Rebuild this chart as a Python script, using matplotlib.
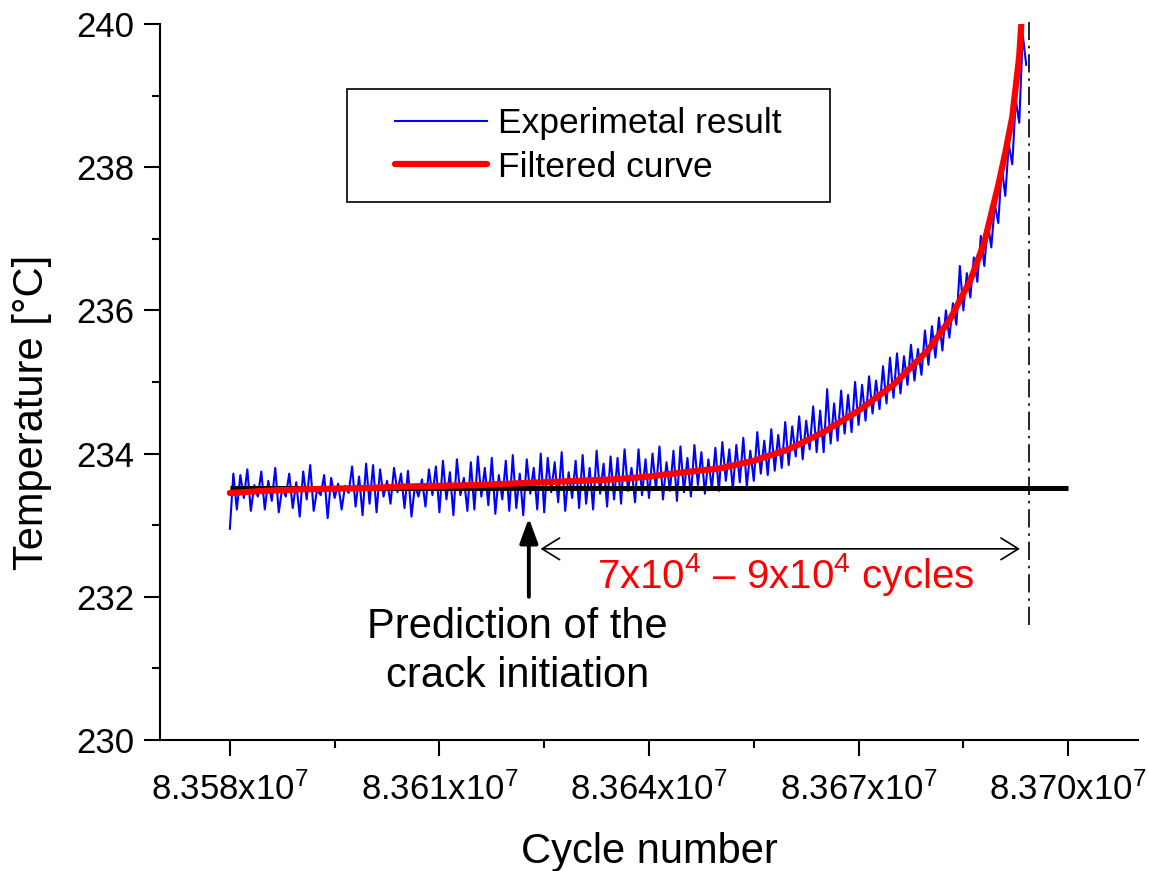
import matplotlib
matplotlib.use('Agg')
import matplotlib.pyplot as plt
from matplotlib.ticker import FixedLocator, FixedFormatter
from matplotlib.patches import Rectangle

plt.rcParams['font.family'] = ['Liberation Sans', 'DejaVu Sans']
plt.rcParams['mathtext.fontset'] = 'custom'
plt.rcParams['mathtext.rm'] = 'Liberation Sans'
plt.rcParams['mathtext.it'] = 'Liberation Sans:italic'
plt.rcParams['mathtext.bf'] = 'Liberation Sans:bold'

# ---------------- data ----------------
blue_start = 83580000   # first sampled cycle
blue_step = 500         # cycles between samples
blue_temp = [
    232.95, 233.72, 233.22, 233.70, 233.38, 233.78, 233.20, 233.56, 233.40, 233.75,
    233.22, 233.62, 233.34, 233.80, 233.18, 233.52, 233.40, 233.72, 233.24, 233.60,
    233.12, 233.75, 233.36, 233.84, 233.20, 233.50, 233.42, 233.70, 233.10, 233.66,
    233.38, 233.58, 233.22, 233.55, 233.45, 233.82, 233.26, 233.68, 233.14, 233.86,
    233.30, 233.84, 233.18, 233.78, 233.40, 233.62, 233.30, 233.80, 233.46, 233.72,
    233.24, 233.76, 233.12, 233.56, 233.40, 233.64, 233.26, 233.78, 233.42, 233.82,
    233.18, 233.90, 233.36, 233.74, 233.14, 233.92, 233.42, 233.66, 233.20, 233.88,
    233.22, 233.96, 233.40, 233.80, 233.28, 233.94, 233.16, 233.70, 233.36, 233.90,
    233.20, 233.98, 233.24, 233.72, 233.14, 233.92, 233.44, 233.80, 233.22, 234.00,
    233.18, 233.94, 233.46, 233.88, 233.32, 234.02, 233.20, 233.74, 233.38, 233.90,
    233.24, 233.98, 233.30, 233.80, 233.22, 234.04, 233.44, 233.86, 233.26, 233.96,
    233.36, 233.94, 233.30, 234.06, 233.48, 233.80, 233.32, 234.06, 233.42, 233.92,
    233.38, 234.00, 233.50, 234.10, 233.36, 233.88, 233.48, 234.04, 233.34, 234.10,
    233.46, 233.94, 233.40, 234.12, 233.56, 234.02, 233.44, 233.92, 233.50, 234.08,
    233.48, 234.16, 233.62, 234.06, 233.50, 234.12, 233.60, 234.22, 233.54, 234.04,
    233.62, 234.30, 233.72, 234.18, 233.70, 234.34, 233.76, 234.26, 233.80, 234.44,
    233.84, 234.38, 233.96, 234.52, 233.92, 234.46, 234.06, 234.66, 234.02, 234.60,
    234.02, 234.90, 234.14, 234.70, 234.18, 234.88, 234.28, 234.82, 234.30, 235.00,
    234.40, 234.96, 234.46, 235.08, 234.56, 235.02, 234.62, 235.22, 234.70, 235.34,
    234.78, 235.40, 234.84, 235.36, 234.96, 235.52, 235.02, 235.46, 235.10, 235.72,
    235.24, 235.78, 235.34, 235.90, 235.44, 236.00, 235.62, 236.10, 235.80, 236.62,
    236.00, 236.52, 236.18, 236.74, 236.40, 237.04, 236.62, 237.22, 236.88, 237.48,
    237.22, 238.00, 237.60, 238.32, 238.04, 238.94, 238.62, 239.85, 239.43,
]
blue_cycles = [blue_start + blue_step * i for i in range(len(blue_temp))]

red_cycles = [83580000, 83585000, 83590000, 83595000, 83600000, 83605000,
              83610000, 83615000, 83620000, 83625000, 83630000, 83635000,
              83640000, 83645000, 83650000, 83655000, 83660000, 83665000,
              83670000, 83675000, 83680000, 83683000, 83686000, 83688000,
              83690000, 83691000, 83692000, 83693000, 83693300]
red_temp = [233.45, 233.48, 233.50, 233.51, 233.52, 233.54,
            233.55, 233.56, 233.58, 233.60, 233.62, 233.64,
            233.68, 233.74, 233.79, 233.90, 234.06, 234.30,
            234.60, 234.96, 235.45, 235.86, 236.42, 236.95,
            237.75, 238.20, 238.70, 239.55, 240.00]

baseline_cycles = [83580000, 83700000]
baseline_temp = [233.52, 233.52]

failure_cycle = 83694400
failure_temp_range = [231.6, 240.03]
initiation_cycle = 83622800
initiation_arrow_temp = [232.0, 233.1]
span_cycles = [83624470, 83693110]
span_temp = 232.67

x_ticks = [83580000, 83610000, 83640000, 83670000, 83700000]
x_tick_labels = ['8.358x10$^{7}$', '8.361x10$^{7}$', '8.364x10$^{7}$',
                 '8.367x10$^{7}$', '8.370x10$^{7}$']
x_minor = [83595000, 83625000, 83655000, 83685000]
y_ticks = [230, 232, 234, 236, 238, 240]
y_tick_labels = ['230', '232', '234', '236', '238', '240']
y_minor = [231, 233, 235, 237, 239]

# ---------------- figure ----------------
W, H = 1149, 871
fig = plt.figure(figsize=(W / 100, H / 100), dpi=100)
ax = fig.add_axes([160 / W, 131 / H, 978 / W, 716 / H])

l_blue, = ax.plot(blue_cycles, blue_temp, color='#0000ff', lw=1.5, zorder=2,
                  label='Experimetal result')
ax.plot(baseline_cycles, baseline_temp, color='black', lw=3.6, zorder=3,
        solid_capstyle='butt')
l_red, = ax.plot(red_cycles, red_temp, color='#ff0000', lw=4.5, zorder=4,
                 solid_capstyle='round', label='Filtered curve')

ax.plot([failure_cycle, failure_cycle], failure_temp_range, color='black',
        lw=1.2, linestyle=(0, (11, 3.5, 1.5, 3.5)), clip_on=False, zorder=3)

ax.set_xlim(83570000, 83710000)
ax.set_ylim(230, 240)

ax.xaxis.set_major_locator(FixedLocator(x_ticks))
ax.xaxis.set_major_formatter(FixedFormatter(x_tick_labels))
ax.xaxis.set_minor_locator(FixedLocator(x_minor))
ax.yaxis.set_major_locator(FixedLocator(y_ticks))
ax.yaxis.set_major_formatter(FixedFormatter(y_tick_labels))
ax.yaxis.set_minor_locator(FixedLocator(y_minor))

for s in ['top', 'right']:
    ax.spines[s].set_visible(False)
for s in ['left', 'bottom']:
    ax.spines[s].set_linewidth(1.5)

ax.tick_params(which='major', direction='out', length=11.5, width=1.5,
               labelsize=25, colors='black')
ax.tick_params(which='minor', direction='out', length=5.8, width=1.5)
ax.tick_params(axis='x', which='major', pad=12)
ax.tick_params(axis='y', which='major', pad=7)

ax.set_xlabel('Cycle number', fontsize=30)
ax.set_ylabel('Temperature [°C]', fontsize=30)
ax.xaxis.set_label_coords(0.5, -0.156)
ax.xaxis.label.set_va('center')
ax.yaxis.set_label_coords(-0.131, 0.457)
ax.yaxis.label.set_va('center')

# annotations
ax.annotate('', xy=(initiation_cycle, initiation_arrow_temp[1]),
            xytext=(initiation_cycle, initiation_arrow_temp[0]),
            arrowprops=dict(arrowstyle='-|>,head_length=0.6,head_width=0.22',
                            lw=2.8, color='black', shrinkA=0, shrinkB=0,
                            mutation_scale=25))
ax.annotate('', xy=(span_cycles[1], span_temp), xytext=(span_cycles[0], span_temp),
            arrowprops=dict(arrowstyle='<->,head_length=0.42,head_width=0.26',
                            lw=1.2, color='black', shrinkA=0, shrinkB=0,
                            mutation_scale=30))
ax.text(83659500, 232.12, '7x10$^{4}$ – 9x10$^{4}$ cycles', color='#ff0000',
        fontsize=29, ha='center', va='baseline')
ax.text(83621180, 231.24, 'Prediction of the\ncrack initiation', color='black',
        fontsize=30, ha='center', va='center', linespacing=1.3)

# legend
fig.legend(handles=[l_blue, l_red], loc='upper left',
           bbox_to_anchor=(395 / W, 1 - 107 / H), frameon=False, fontsize=25.5,
           handlelength=2.6, handletextpad=0.3, labelspacing=0.3,
           borderpad=0, borderaxespad=0)
fig.add_artist(Rectangle((347 / W, 1 - 202 / H), 483 / W, 113 / H,
                         transform=fig.transFigure, fill=False,
                         edgecolor='black', lw=1.2))

fig.savefig('out.png', dpi=100)
